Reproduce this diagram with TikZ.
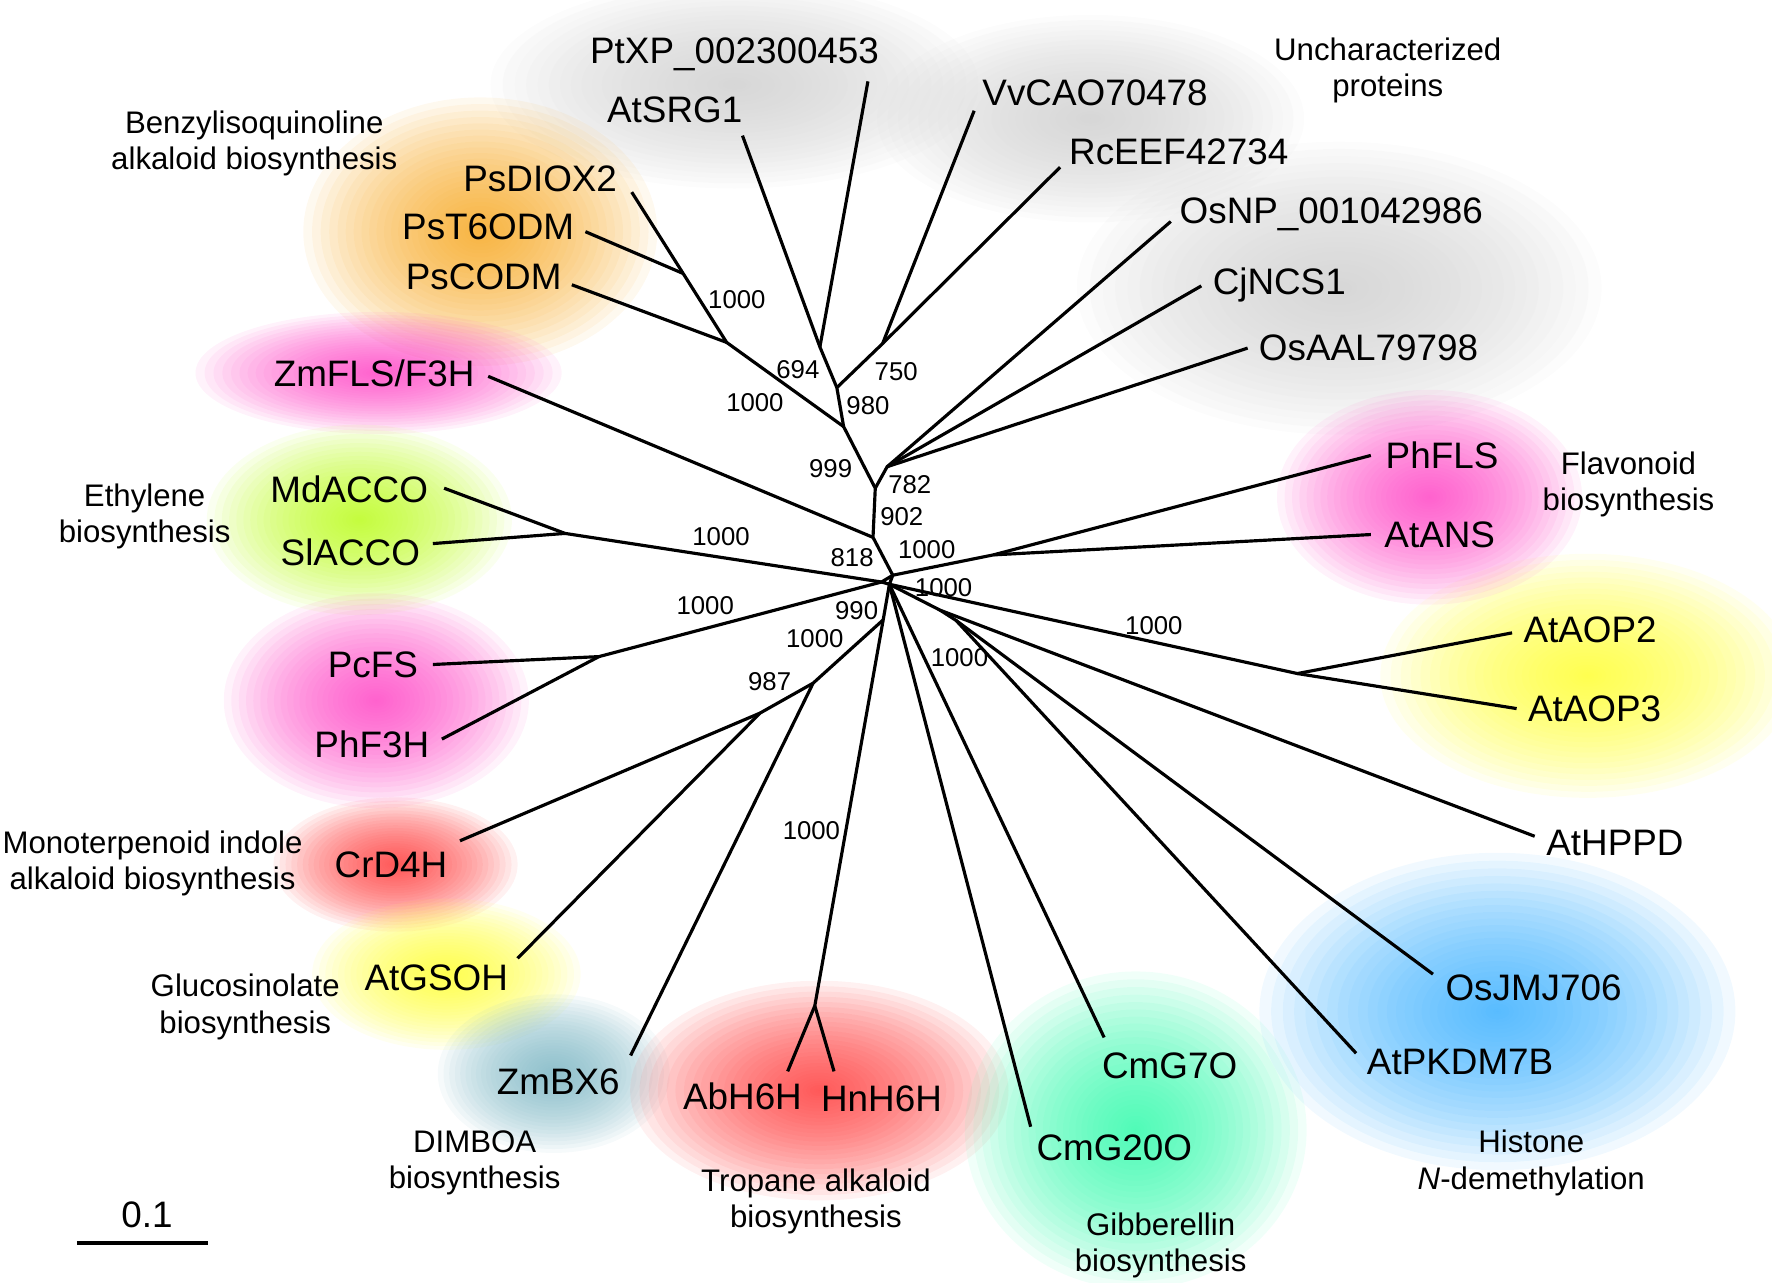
\documentclass[tikz,border=0pt]{standalone}
\usepackage{fontspec}
\setmainfont{Liberation Sans}
\definecolor{cgray}{RGB}{210,210,210}
\definecolor{corange}{RGB}{247,172,45}
\definecolor{cmag}{RGB}{255,80,200}
\definecolor{clime}{RGB}{190,252,40}
\definecolor{cred}{RGB}{255,70,70}
\definecolor{cyel}{RGB}{255,255,60}
\definecolor{cteal}{RGB}{130,185,198}
\definecolor{cmint}{RGB}{60,250,175}
\definecolor{cblue}{RGB}{70,180,255}
\tikzset{
  br/.style={line width=1.4pt, line join=round},
  leaf/.style={font=\fontsize{16.3}{18}\selectfont, inner sep=0pt},
  grp/.style={font=\fontsize{13.8}{16}\selectfont, inner sep=0pt, align=center},
  bs/.style={font=\fontsize{11.4}{13}\selectfont, inner sep=0pt},
  blobfill/.style={fill=#1, fill opacity=0.075}
}
\newcommand\myblob[4]{%
  \foreach \k in {1,...,30}{%
    \pgfmathsetmacro\fr{(\k/30)^1.5}%
    \fill[blobfill=#1] (#2) ellipse [x radius={#3*1.08*\fr}, y radius={#4*1.08*\fr}];
  }%
}
\begin{document}
\begin{tikzpicture}[x=0.5pt,y=-0.5pt]
\useasboundingbox (0,0) rectangle (1568,1135);
% ---------- blobs ----------
\myblob{cgray}{650,75}{200}{85}
\myblob{cgray}{965,105}{175}{85}
\myblob{cgray}{1185,255}{215}{120}
\myblob{corange}{425,205}{145}{110}
\myblob{cmag}{335,330}{150}{50}
\myblob{clime}{318,460}{125}{78}
\myblob{cmag}{333,620}{125}{88}
\myblob{cred}{350,765}{100}{55}
\myblob{cyel}{395,862}{110}{62}
\myblob{cteal}{490,950}{95}{65}
\myblob{cred}{725,965}{155}{90}
\myblob{cmint}{1005,1000}{140}{130}
\myblob{cblue}{1325,895}{195}{130}
\myblob{cyel}{1405,598}{170}{100}
\myblob{cmag}{1265,440}{125}{88}
% ---------- internal nodes ----------
\coordinate (n818) at (772.5,475.5);
\coordinate (n902) at (774.5,432);
\coordinate (n782) at (785,413);
\coordinate (n999) at (746.5,377.5);
\coordinate (n980) at (740.5,343);
\coordinate (n694) at (725.5,307);
\coordinate (n750) at (781,304);
\coordinate (nPsC) at (643,303);
\coordinate (nPsD) at (604.5,242);
\coordinate (nEth) at (500,472);
\coordinate (nPc) at (530,581);
\coordinate (rA) at (790,509);
\coordinate (rB) at (780,515);
\coordinate (rC) at (787,517);
\coordinate (n990) at (781.5,548.5);
\coordinate (nBX) at (719.5,604.5);
\coordinate (n987) at (672.5,631);
\coordinate (nH6H) at (721,890);
\coordinate (nAOP) at (1148,596);
\coordinate (nFLS) at (879,491);
\coordinate (nHP) at (832,540);
\coordinate (nJM) at (846,549);
% ---------- leaf ends ----------
\coordinate (ePtXP) at (768,72);
\coordinate (eSRG) at (657,120);
\coordinate (eVv) at (862,98);
\coordinate (eRc) at (938,148);
\coordinate (eOsNP) at (1036,196);
\coordinate (eCj) at (1063,253);
\coordinate (eOsAAL) at (1104,308);
\coordinate (ePhFLS) at (1213,403);
\coordinate (eANS) at (1213,473);
\coordinate (eAOP2) at (1338,560);
\coordinate (eAOP3) at (1342,627);
\coordinate (eHPPD) at (1358,740);
\coordinate (eJMJ) at (1268,862);
\coordinate (ePKDM) at (1200,932);
\coordinate (eG7) at (977,918);
\coordinate (eG20) at (912,997);
\coordinate (eHn) at (738,948);
\coordinate (eAb) at (697,948);
\coordinate (eBX) at (558,934);
\coordinate (eGSOH) at (458,848);
\coordinate (eD4H) at (407,744);
\coordinate (eF3H) at (391,654);
\coordinate (ePcFS) at (383,588);
\coordinate (eSl) at (383,481);
\coordinate (eMd) at (393,432);
\coordinate (eZm) at (432,333);
\coordinate (eCODM) at (506,252);
\coordinate (eT6) at (518,205);
\coordinate (eDIOX) at (559,170);
% ---------- branches ----------
\draw[br] (ePtXP) -- (n694);
\draw[br] (eSRG) -- (n694) -- (n980) -- (n999) -- (n902) -- (n818) -- (rA);
\draw[br] (n980) -- (n750) -- (eVv);
\draw[br] (n750) -- (eRc);
\draw[br] (n999) -- (nPsC) -- (nPsD) -- (eDIOX);
\draw[br] (nPsD) -- (eT6);
\draw[br] (nPsC) -- (eCODM);
\draw[br] (n902) -- (n782) -- (eOsNP);
\draw[br] (n782) -- (eCj);
\draw[br] (n782) -- (eOsAAL);
\draw[br] (n818) -- (eZm);
\draw[br] (rA) -- (nFLS) -- (eANS);
\draw[br] (nFLS) -- (ePhFLS);
\draw[br] (rA) -- (rB) -- (rC) -- (rA);
\draw[br] (rB) -- (nEth) -- (eMd);
\draw[br] (nEth) -- (eSl);
\draw[br] (rB) -- (nPc) -- (ePcFS);
\draw[br] (nPc) -- (eF3H);
\draw[br] (rC) -- (n990) -- (nH6H) -- (eAb);
\draw[br] (nH6H) -- (eHn);
\draw[br] (n990) -- (nBX) -- (eBX);
\draw[br] (nBX) -- (n987) -- (eGSOH);
\draw[br] (n987) -- (eD4H);
\draw[br] (rC) -- (nAOP) -- (eAOP2);
\draw[br] (nAOP) -- (eAOP3);
\draw[br] (rC) -- (nHP) -- (eHPPD);
\draw[br] (nHP) -- (nJM) -- (eJMJ);
\draw[br] (nJM) -- (ePKDM);
\draw[br] (rC) -- (eG7);
\draw[br] (rC) -- (eG20);
% ---------- leaf labels ----------
\node[leaf] (lPtXP) at (650,48) {PtXP\_002300453};
\node[leaf] (lSRG) at (597,97) {AtSRG1};
\node[leaf] (lVv) at (969,82) {VvCAO70478};
\node[leaf] (lRc) at (1043,134) {RcEEF42734};
\node[leaf] (lOsNP) at (1178,190) {OsNP\_001042986};
\node[leaf] (lCj) at (1132,252) {CjNCS1};
\node[leaf] (lOsAAL) at (1211,308) {OsAAL79798};
\node[leaf] (lPhFLS) at (1276,403) {PhFLS};
\node[leaf] (lANS) at (1274,473) {AtANS};
\node[leaf] (lAOP2) at (1407,557) {AtAOP2};
\node[leaf] (lAOP3) at (1411,627) {AtAOP3};
\node[leaf] (lHPPD) at (1429,746) {AtHPPD};
\node[leaf] (lJMJ) at (1357,874) {OsJMJ706};
\node[leaf] (lPKDM) at (1292,940) {AtPKDM7B};
\node[leaf] (lG7) at (1035,943) {CmG7O};
\node[leaf] (lG20) at (986,1016) {CmG20O};
\node[leaf] (lHn) at (780,972) {HnH6H};
\node[leaf] (lAb) at (657,970) {AbH6H};
\node[leaf] (lBX) at (494,957) {ZmBX6};
\node[leaf] (lGSOH) at (386,865) {AtGSOH};
\node[leaf] (lD4H) at (346,765) {CrD4H};
\node[leaf] (lF3H) at (329,659) {PhF3H};
\node[leaf] (lPcFS) at (330,588) {PcFS};
\node[leaf] (lSl) at (310,489) {SlACCO};
\node[leaf] (lMd) at (309,433) {MdACCO};
\node[leaf] (lZm) at (331,330) {ZmFLS/F3H};
\node[leaf] (lCODM) at (428,245) {PsCODM};
\node[leaf] (lT6) at (432,201) {PsT6ODM};
\node[leaf] (lDIOX) at (478,158) {PsDIOX2};
% ---------- group labels ----------
\node[grp] (gBIA) at (225,127) {Benzylisoquinoline\\alkaloid biosynthesis};
\node[grp] (gUnc) at (1228,62) {Uncharacterized\\proteins};
\node[grp] (gEth) at (128,457) {Ethylene\\biosynthesis};
\node[grp] (gFla) at (1441,429) {Flavonoid\\biosynthesis};
\node[grp] (gMIA) at (135,764) {Monoterpenoid indole\\alkaloid biosynthesis};
\node[grp] (gGlu) at (217,891) {Glucosinolate\\biosynthesis};
\node[grp] (gDIM) at (420,1029) {DIMBOA\\biosynthesis};
\node[grp] (gTro) at (722,1063) {Tropane alkaloid\\biosynthesis};
\node[grp] (gGib) at (1027,1102) {Gibberellin\\biosynthesis};
\node[grp] (gHis) at (1355,1029) {Histone\\\textit{N}-demethylation};
% ---------- bootstrap values ----------
\node[bs] (b1) at (652,265) {1000};
\node[bs] (b2) at (706,327) {694};
\node[bs] (b3) at (668,356) {1000};
\node[bs] (b4) at (793,329) {750};
\node[bs] (b5) at (768,359) {980};
\node[bs] (b6) at (735,415) {999};
\node[bs] (b7) at (805,429) {782};
\node[bs] (b8) at (798,457) {902};
\node[bs] (b9) at (754,493) {818};
\node[bs] (b10) at (820,486) {1000};
\node[bs] (b11) at (638,475) {1000};
\node[bs] (b12) at (835,520) {1000};
\node[bs] (b13) at (624,536) {1000};
\node[bs] (b14) at (758,540) {990};
\node[bs] (b15) at (721,565) {1000};
\node[bs] (b16) at (681,603) {987};
\node[bs] (b17) at (849,582) {1000};
\node[bs] (b18) at (1021,554) {1000};
\node[bs] (b19) at (718,735) {1000};
% ---------- scale bar ----------
\coordinate (sb1) at (68,1100);
\coordinate (sb2) at (184,1100);
\draw[line width=1.5pt] (sb1) -- (sb2);
\node[leaf] (sbl) at (130,1075) {0.1};
\end{tikzpicture}
\end{document}
